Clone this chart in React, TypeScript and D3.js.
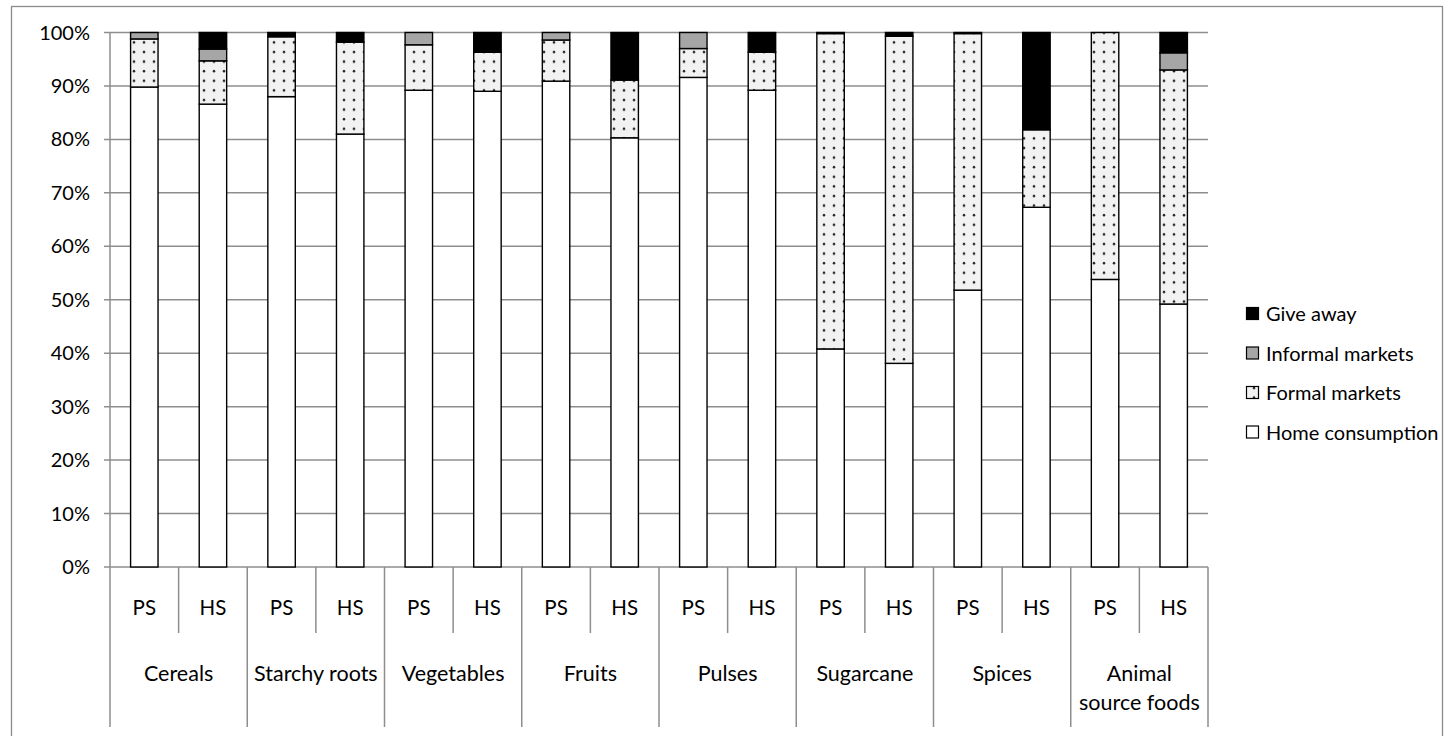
import { useEffect, useRef } from 'react'
import * as d3 from 'd3'

const groups = ['Cereals', 'Starchy roots', 'Vegetables', 'Fruits', 'Pulses', 'Sugarcane', 'Spices', 'Animal source foods']
const systems = ['PS', 'HS']

// one value per bar, in order: Cereals PS, Cereals HS, Starchy roots PS, ...
const homeConsumption = [89.8, 86.6, 88.0, 81.0, 89.2, 89.0, 90.9, 80.3, 91.6, 89.2, 40.8, 38.1, 51.8, 67.3, 53.8, 49.2]
const formalMarkets = [9.0, 8.1, 11.2, 17.2, 8.5, 7.3, 7.7, 10.8, 5.4, 7.1, 59.0, 61.2, 48.0, 14.5, 46.2, 43.8]
const informalMarkets = [1.2, 2.2, 0, 0, 2.3, 0, 1.4, 0, 3.0, 0, 0.2, 0, 0.2, 0, 0, 3.2]
const giveAway = [0, 3.1, 0.8, 1.8, 0, 3.7, 0, 8.9, 0, 3.7, 0, 0.7, 0, 18.2, 0, 3.8]

const seriesKeys = ['Home consumption', 'Formal markets', 'Informal markets', 'Give away']
const yTicks = [0, 0.1, 0.2, 0.3, 0.4, 0.5, 0.6, 0.7, 0.8, 0.9, 1]

const FONT = 'Lato, "Open Sans", sans-serif'

type Row = { group: string; system: string; [k: string]: number | string }

export default function App() {
  const svgRef = useRef<SVGSVGElement>(null)

  useEffect(() => {
    const svgEl = svgRef.current
    if (!svgEl) return
    const width = 1445
    const height = 736
    const plot = { left: 110, right: 1208, top: 32.5, bottom: 567 }

    const rows: Row[] = []
    groups.forEach((g, gi) => {
      systems.forEach((s, si) => {
        const i = gi * 2 + si
        rows.push({
          group: g,
          system: s,
          'Home consumption': homeConsumption[i] / 100,
          'Formal markets': formalMarkets[i] / 100,
          'Informal markets': informalMarkets[i] / 100,
          'Give away': giveAway[i] / 100,
        })
      })
    })

    const x0 = d3.scaleBand<string>().domain(groups).range([plot.left, plot.right])
    const x1 = d3.scaleBand<string>().domain(systems).range([0, x0.bandwidth()]).paddingInner(0.6).paddingOuter(0.3)
    const y = d3.scaleLinear().domain([0, 1]).range([plot.bottom, plot.top])

    const fills: Record<string, string> = {
      'Home consumption': '#ffffff',
      'Formal markets': 'url(#dots)',
      'Informal markets': '#a6a6a6',
      'Give away': '#000000',
    }

    const svg = d3.select(svgEl)
    svg.attr('width', width).attr('height', height).selectAll('*').remove()

    // dotted fill for formal markets
    const pat = svg.append('defs').append('pattern')
      .attr('id', 'dots')
      .attr('patternUnits', 'userSpaceOnUse')
      .attr('width', 10)
      .attr('height', 9.6)
    pat.append('rect').attr('width', 10).attr('height', 9.6).attr('fill', '#f2f2f2')
    pat.append('circle').attr('cx', 4).attr('cy', 4).attr('r', 1.25).attr('fill', '#262626')

    // outer frame
    svg.append('rect')
      .attr('x', 11.5).attr('y', 6.5)
      .attr('width', 1431).attr('height', 760)
      .attr('fill', 'none')
      .style('stroke', '#8c8c8c').style('stroke-width', '1.3')

    // gridlines + y tick labels
    const grid = svg.append('g')
    grid.selectAll('line')
      .data(yTicks)
      .join('line')
      .attr('x1', plot.left - 6).attr('x2', plot.right)
      .attr('y1', d => y(d)).attr('y2', d => y(d))
      .style('stroke', '#8e8e8e').style('stroke-width', '1.5')
    grid.selectAll('text')
      .data(yTicks)
      .join('text')
      .attr('x', plot.left - 20)
      .attr('y', d => y(d))
      .attr('dy', '0.35em')
      .attr('text-anchor', 'end')
      .style('font-family', FONT).style('font-size', '20px').style('fill', '#000')
      .text(d => d3.format('.0%')(d))

    // y axis line
    svg.append('line')
      .attr('x1', plot.left).attr('x2', plot.left)
      .attr('y1', plot.top).attr('y2', plot.bottom)
      .style('stroke', '#8e8e8e').style('stroke-width', '1.5')

    // stacked bars
    const stacked = d3.stack<Row>().keys(seriesKeys).value((d, k) => d[k] as number)(rows)
    const barG = svg.append('g')
    stacked.forEach(layer => {
      barG.append('g')
        .selectAll('rect')
        .data(layer.filter(d => d[1] - d[0] > 0.0005))
        .join('rect')
        .attr('x', d => (x0(d.data.group) ?? 0) + (x1(d.data.system) ?? 0))
        .attr('width', x1.bandwidth())
        .attr('y', d => y(d[1]))
        .attr('height', d => y(d[0]) - y(d[1]))
        .attr('fill', fills[layer.key])
        .style('stroke', '#000').style('stroke-width', '1.4')
    })

    // category axis (two levels)
    const axisY = plot.bottom
    const cat = svg.append('g')
    const sep = (x: number, y2: number) =>
      cat.append('line').attr('x1', x).attr('x2', x).attr('y1', axisY).attr('y2', y2)
        .style('stroke', '#8e8e8e').style('stroke-width', '1.5')
    groups.forEach(g => {
      const gx = x0(g) ?? 0
      sep(gx, 727)
      sep(gx + x0.bandwidth() / 2, 633)
      systems.forEach(s => {
        cat.append('text')
          .attr('x', gx + (x1(s) ?? 0) + x1.bandwidth() / 2)
          .attr('y', 608)
          .attr('dy', '0.35em')
          .attr('text-anchor', 'middle')
          .style('font-family', FONT).style('font-size', '20.5px')
          .text(s)
      })
      const words = g === 'Animal source foods' ? ['Animal', 'source foods'] : [g]
      words.forEach((w, wi) => {
        cat.append('text')
          .attr('x', gx + x0.bandwidth() / 2)
          .attr('y', 673 + wi * 29)
          .attr('dy', '0.35em')
          .attr('text-anchor', 'middle')
          .style('font-family', FONT).style('font-size', '21.5px')
          .text(w)
      })
    })
    sep(plot.right, 727)

    // legend
    const legendKeys = [...seriesKeys].reverse()
    const leg = svg.append('g')
    legendKeys.forEach((k, i) => {
      const ly = 314 + i * 39.5
      leg.append('rect')
        .attr('x', 1246.5).attr('y', ly - 6.5)
        .attr('width', 12).attr('height', 12)
        .attr('fill', fills[k])
        .style('stroke', '#000').style('stroke-width', '1.2')
      leg.append('text')
        .attr('x', 1266).attr('y', ly)
        .attr('dy', '0.35em')
        .style('font-family', FONT).style('font-size', '20px')
        .text(k)
    })
  }, [])

  return (
    <div style={{ position: 'absolute', left: 0, top: 0, width: 1445, height: 736, background: '#fff' }}>
      <svg ref={svgRef} style={{ display: 'block' }} />
    </div>
  )
}
